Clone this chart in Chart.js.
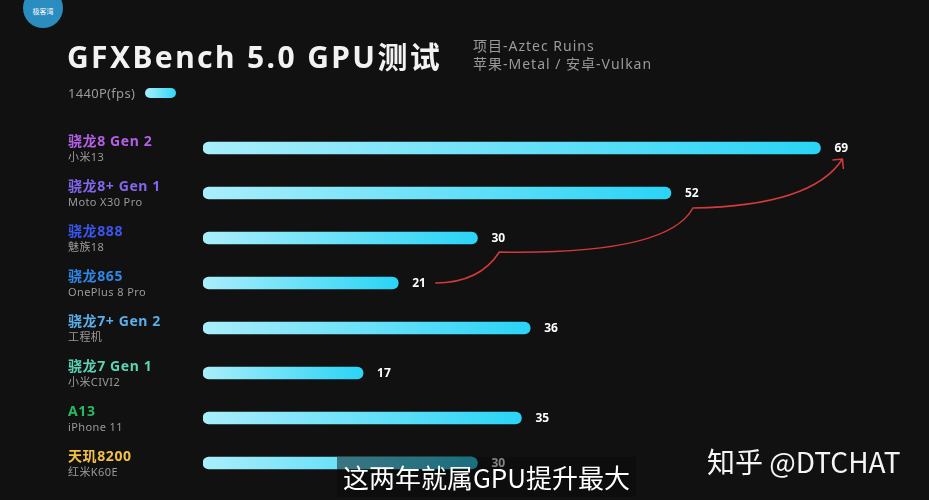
<!DOCTYPE html>
<html>
<head>
<meta charset="utf-8">
<script src="https://cdn.jsdelivr.net/npm/chart.js@4.4.1/dist/chart.umd.min.js"></script>
<style>
    html, body { margin: 0; padding: 0; background: #111111; }
    #wrap { position: relative; width: 929px; height: 500px; overflow: hidden; font-family: "Noto Sans", "Noto Sans CJK SC", sans-serif; }
    #chart { position: absolute; left: 0; top: 0; }
    .badge { position: absolute; left: 23px; top: -12px; width: 40px; height: 40px; border-radius: 50%; background: #2b8cbf; color: #fff; font-size: 7px; text-align: center; line-height: 48px; }
    .title { position: absolute; left: 67px; top: 33px; color: #f2f2f2; font-size: 30px; font-weight: bold; letter-spacing: 2.4px; }
    .sub { position: absolute; left: 473px; color: #9a9a9a; font-size: 14px; letter-spacing: 1px; }
    .legend { position: absolute; left: 68px; top: 84px; color: #9a9a9a; font-size: 13px; letter-spacing: 0.3px; }
    .pill { position: absolute; left: 145px; top: 88px; width: 31px; height: 10px; border-radius: 5px; background: linear-gradient(90deg, #a8eefb, #2fd6f6); }
    .caption { position: absolute; left: 337px; top: 457px; width: 299px; height: 40px; background: rgba(10,10,10,0.5); color: #ffffff; font-size: 26px; text-align: center; line-height: 40px; font-family: "Noto Sans CJK SC", sans-serif; }
    .mark { position: absolute; left: 707px; top: 441px; color: #f5f5f5; font-size: 28px; font-family: "Noto Sans CJK SC", sans-serif; }
</style>
</head>
<body>
<div id="wrap">
    <canvas id="chart" width="929" height="500"></canvas>
    <div class="badge">极客湾</div>
    <div class="title">GFXBench 5.0 GPU测试</div>
    <div class="sub" style="top:35px">项目-Aztec Ruins</div>
    <div class="sub" style="top:53px">苹果-Metal / 安卓-Vulkan</div>
    <div class="legend">1440P(fps)</div>
    <div class="pill"></div>
    <div class="caption">这两年就属GPU提升最大</div>
    <div class="mark">知乎 @DTCHAT</div>
</div>
<script>
// 数据
const chips = ['骁龙8 Gen 2', '骁龙8+ Gen 1', '骁龙888', '骁龙865', '骁龙7+ Gen 2', '骁龙7 Gen 1', 'A13', '天玑8200'];
const devices = ['小米13', 'Moto X30 Pro', '魅族18', 'OnePlus 8 Pro', '工程机', '小米CIVI2', 'iPhone 11', '红米K60E'];
const fps = [69, 52, 30, 21, 36, 17, 35, 30];

// 颜色
const chipColors = ['#b35fe6', '#8466ee', '#3b55f0', '#2f86e6', '#5aaeea', '#5cd4b4', '#26bb5c', '#f2c043'];

function barGradient(context) {
    const chart = context.chart;
    const area = chart.chartArea;
    if (!area) return '#5ee0f8';
    const x = chart.scales.x;
    const v = context.raw;
    const g = chart.ctx.createLinearGradient(x.left, 0, x.getPixelForValue(v), 0);
    g.addColorStop(0, '#a9eefb');
    g.addColorStop(1, '#2ad4f6');
    return g;
}

const textPlugin = {
    id: 'textPlugin',
    afterDatasetsDraw(chart) {
        const ctx = chart.ctx;
        const x = chart.scales.x;
        const y = chart.scales.y;
        ctx.save();
        ctx.textBaseline = 'middle';
        chips.forEach((c, i) => {
            const cy = y.getPixelForValue(i);
            ctx.textAlign = 'left';
            ctx.fillStyle = chipColors[i];
            ctx.font = 'bold 14px "Noto Sans", "Noto Sans CJK SC"';
            ctx.letterSpacing = '0.6px';
            ctx.fillText(c, 68, cy - 6);
            ctx.fillStyle = '#9a9a9a';
            ctx.font = '11px "Noto Sans", "Noto Sans CJK SC"';
            ctx.letterSpacing = '0.4px';
            ctx.fillText(devices[i], 68, cy + 10);
            // 数值
            ctx.letterSpacing = '0px';
            ctx.fillStyle = '#ffffff';
            ctx.font = 'bold 12px "Noto Sans"';
            ctx.fillText(String(fps[i]), x.getPixelForValue(fps[i]) + 14, cy + 1);
        });

        // 红色箭头: 21 -> 30 -> 52 -> 69
        const lx = i => x.getPixelForValue(fps[i]) + 22;
        const p0 = { x: lx(3) + 15, y: y.getPixelForValue(3) };
        const p1 = { x: lx(2), y: y.getPixelForValue(2) + 14 };
        const p2 = { x: lx(1), y: y.getPixelForValue(1) + 15 };
        const p3 = { x: lx(0), y: y.getPixelForValue(0) + 11 };
        ctx.strokeStyle = '#d43a3a';
        ctx.lineWidth = 1.5;
        ctx.beginPath();
        ctx.moveTo(p0.x, p0.y);
        ctx.quadraticCurveTo(p1.x - 20, p0.y, p1.x, p1.y);
        ctx.quadraticCurveTo(p2.x - 25, p1.y + 3, p2.x, p2.y);
        ctx.quadraticCurveTo(p3.x - 30, p2.y - 2, p3.x, p3.y);
        ctx.stroke();
        ctx.beginPath();
        ctx.moveTo(p3.x - 10, p3.y + 1);
        ctx.lineTo(p3.x, p3.y);
        ctx.lineTo(p3.x + 1, p3.y + 10);
        ctx.stroke();
        ctx.restore();
    }
};

new Chart(document.getElementById('chart'), {
    type: 'bar',
    data: {
        labels: chips,
        datasets: [{
            data: fps,
            base: -1.2,
            backgroundColor: barGradient,
            borderRadius: 6,
            borderSkipped: false,
            barThickness: 12
        }]
    },
    options: {
        indexAxis: 'y',
        responsive: false,
        animation: false,
        layout: { padding: { left: 203, right: 47, top: 125.5, bottom: 14.5 } },
        plugins: { legend: { display: false }, tooltip: { enabled: false } },
        scales: {
            x: { display: false, min: -1.2, max: 76 },
            y: { display: false }
        }
    },
    plugins: [textPlugin]
});
</script>
</body>
</html>
